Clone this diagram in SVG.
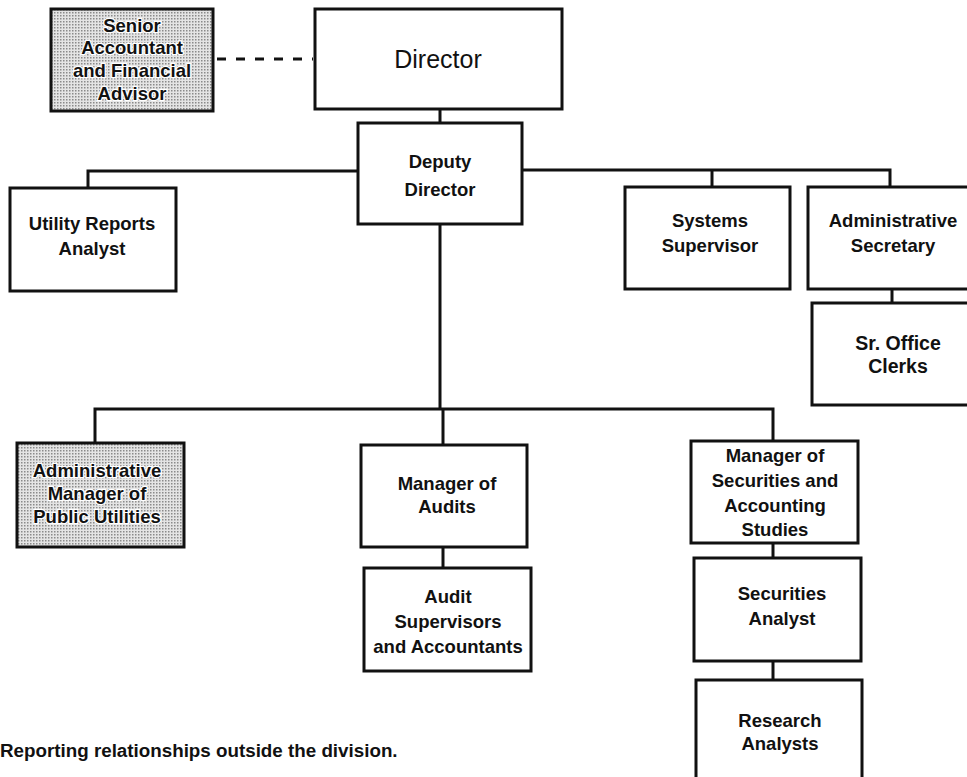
<svg xmlns="http://www.w3.org/2000/svg" width="967" height="777" viewBox="0 0 967 777">
<style>
.box{fill:#fff;stroke:#111;stroke-width:3}
.shade{fill:url(#dots);stroke:#111;stroke-width:3}
.ln{stroke:#111;stroke-width:3;fill:none}
text{font-family:"Liberation Sans",Arial,sans-serif;font-size:18.5px;font-weight:bold;fill:#111;text-anchor:middle}
.halo{stroke:#fff;stroke-width:2.5;paint-order:stroke}
</style>
<defs>
<pattern id="dots" width="3" height="3" patternUnits="userSpaceOnUse">
<rect width="3" height="3" fill="#e4e4e4"/>
<rect width="1.5" height="1.5" fill="#8a8a8a"/>
</pattern>
</defs>
<rect width="967" height="777" fill="#fff"/>
<g id="connectors">
<line class="ln" x1="217" y1="59" x2="313" y2="59" stroke-dasharray="9 10"/>
<line class="ln" x1="440" y1="109" x2="440" y2="123"/>
<polyline class="ln" points="88,188 88,171 358,171"/>
<polyline class="ln" points="522,170 890,170 890,187"/>
<line class="ln" x1="712" y1="170" x2="712" y2="187"/>
<line class="ln" x1="892" y1="289" x2="892" y2="303"/>
<line class="ln" x1="440" y1="224" x2="440" y2="409"/>
<polyline class="ln" points="95,443 95,409 773,409 773,441"/>
<line class="ln" x1="443" y1="409" x2="443" y2="445"/>
<line class="ln" x1="443" y1="547" x2="443" y2="568"/>
<line class="ln" x1="773" y1="543" x2="773" y2="558"/>
<line class="ln" x1="773" y1="661" x2="773" y2="680"/>
</g>
<g id="senior-accountant">
<rect class="shade" x="51" y="9" width="162" height="102"/>
<text class="halo" x="132" y="32">Senior</text>
<text class="halo" x="132" y="54">Accountant</text>
<text class="halo" x="132" y="77">and Financial</text>
<text class="halo" x="132" y="100">Advisor</text>
</g>
<g id="director">
<rect class="box" x="315" y="9" width="247" height="100"/>
<text x="438" y="68" style="font-size:25px;font-weight:normal">Director</text>
</g>
<g id="deputy-director">
<rect class="box" x="358" y="123" width="164" height="101"/>
<text x="440" y="168">Deputy</text>
<text x="440" y="196">Director</text>
</g>
<g id="utility-reports-analyst">
<rect class="box" x="10" y="188" width="166" height="103"/>
<text x="92" y="230">Utility Reports</text>
<text x="92" y="255">Analyst</text>
</g>
<g id="systems-supervisor">
<rect class="box" x="625" y="187" width="165" height="102"/>
<text x="710" y="227">Systems</text>
<text x="710" y="252">Supervisor</text>
</g>
<g id="administrative-secretary">
<rect class="box" x="808" y="187" width="170" height="102"/>
<text x="893" y="227">Administrative</text>
<text x="893" y="252">Secretary</text>
</g>
<g id="sr-office-clerks">
<rect class="box" x="812" y="303" width="170" height="102"/>
<text x="898" y="350" style="font-size:19.5px">Sr. Office</text>
<text x="898" y="373" style="font-size:19.5px">Clerks</text>
</g>
<g id="administrative-manager">
<rect class="shade" x="17" y="443" width="167" height="104"/>
<text class="halo" x="97" y="477">Administrative</text>
<text class="halo" x="97" y="500">Manager of</text>
<text class="halo" x="97" y="523">Public Utilities</text>
</g>
<g id="manager-of-audits">
<rect class="box" x="361" y="445" width="166" height="102"/>
<text x="447" y="490">Manager of</text>
<text x="447" y="513">Audits</text>
</g>
<g id="audit-supervisors">
<rect class="box" x="364" y="568" width="167" height="103"/>
<text x="448" y="603">Audit</text>
<text x="448" y="628">Supervisors</text>
<text x="448" y="653">and Accountants</text>
</g>
<g id="manager-of-securities">
<rect class="box" x="691" y="441" width="167" height="102"/>
<text x="775" y="462">Manager of</text>
<text x="775" y="487">Securities and</text>
<text x="775" y="512">Accounting</text>
<text x="775" y="536">Studies</text>
</g>
<g id="securities-analyst">
<rect class="box" x="694" y="558" width="167" height="103"/>
<text x="782" y="600">Securities</text>
<text x="782" y="625">Analyst</text>
</g>
<g id="research-analysts">
<rect class="box" x="696" y="680" width="166" height="110"/>
<text x="780" y="727">Research</text>
<text x="780" y="750">Analysts</text>
</g>
<text x="0" y="757" style="text-anchor:start;font-size:18.8px">Reporting relationships outside the division.</text>
</svg>
